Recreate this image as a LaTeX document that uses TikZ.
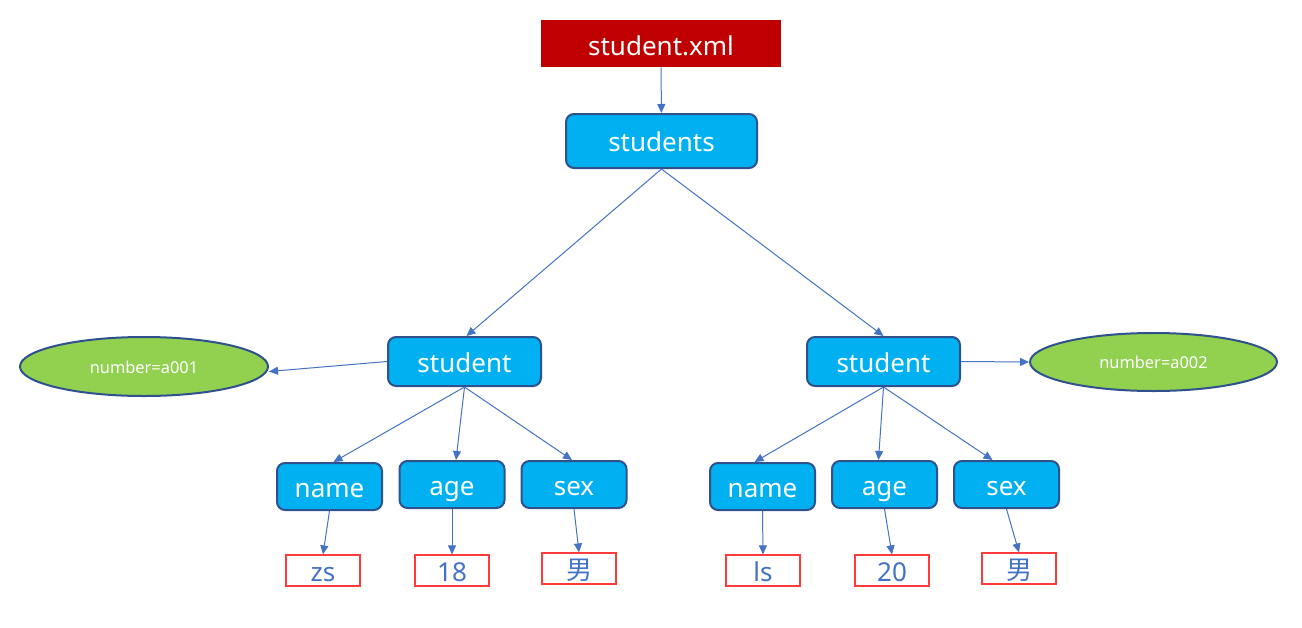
\documentclass[tikz,border=0pt]{standalone}
\usepackage{fontspec}
\setmainfont{Noto Sans}
\newfontfamily\cjk{Noto Sans CJK SC}
\usetikzlibrary{arrows.meta,shapes.geometric}
\definecolor{xmlred}{HTML}{C00000}
\definecolor{nodeblue}{HTML}{00B0F0}
\definecolor{edgeblue}{HTML}{2F528F}
\definecolor{arrowblue}{HTML}{4472C4}
\definecolor{attrgreen}{HTML}{92D050}
\definecolor{leafred}{HTML}{FF3B3B}
\tikzset{
  elem/.style={draw=edgeblue, line width=1pt, fill=nodeblue, rounded corners=4pt,
    text=white, font=\fontsize{13}{15}\selectfont, inner sep=0pt,
    text height=10.5pt, text depth=0pt},
  attr/.style={ellipse, draw=edgeblue, line width=1pt, fill=attrgreen, text=white,
    font=\fontsize{8.2}{9}\selectfont, inner sep=0pt, text height=6.5pt, text depth=0pt},
  leaf/.style={draw=leafred, line width=0.6pt, fill=white, text=arrowblue,
    font=\fontsize{13}{15}\selectfont, inner sep=0pt, minimum width=37pt, minimum height=15.5pt,
    text height=11pt, text depth=0pt},
  conn/.style={draw=arrowblue, line width=0.5pt, -{Triangle[length=4.5pt,width=4pt]}}
}
\begin{document}
\begin{tikzpicture}[x=0.5pt,y=-0.5pt]
\useasboundingbox (0,0) rectangle (1302,627);
\node[fill=xmlred, text=white, font=\fontsize{13}{15}\selectfont, minimum width=120pt, minimum height=23.5pt, inner sep=0pt, text height=11.5pt, text depth=0pt] (xml) at (661,43.5) {student.xml};
\node[elem, minimum width=95.5pt, minimum height=27pt] (students) at (661.5,141) {students};
\node[elem, minimum width=76.5pt, minimum height=24.5pt] (stuL) at (464.5,361.5) {student};
\node[elem, minimum width=76.5pt, minimum height=24.5pt] (stuR) at (883.5,361.5) {student};
\node[attr, minimum width=124pt, minimum height=29.5pt] (attrL) at (144,366.5) {number=a001};
\node[attr, minimum width=123.5pt, minimum height=29pt] (attrR) at (1153.5,362) {number=a002};
\foreach \n/\x/\y/\t in {nameL/329.5/486.5/name, ageL/452/484.5/age, sexL/574/484.5/sex,
    nameR/762.5/486.5/name, ageR/884.5/484.5/age, sexR/1006.5/484.5/sex}{
  \node[elem, minimum width=52.5pt, minimum height=23.5pt] (\n) at (\x,\y) {\t};
}
\node[leaf] (zs) at (323,570.5) {zs};
\node[leaf] (v18) at (452,570.5) {18};
\node[leaf] (mL) at (579,568.5) {\cjk 男};
\node[leaf] (ls) at (763,570.5) {ls};
\node[leaf] (v20) at (892,570.5) {20};
\node[leaf] (mR) at (1019,568.5) {\cjk 男};
\draw[conn] (xml) -- (students);
\draw[conn] (students.south) -- ([xshift=1pt]stuL.north);
\draw[conn] (students.south) -- (stuR.north);
\draw[conn] (stuL.west) -- ([yshift=-2.5pt]attrL.east);
\draw[conn] (stuR.east) -- (attrR.west);
\draw[conn] (stuL.south) -- ([xshift=2pt]nameL.north);
\draw[conn] (stuL.south) -- ([xshift=2pt]ageL.north);
\draw[conn] (stuL.south) -- ([xshift=-1pt]sexL.north);
\draw[conn] (stuR.south) -- ([xshift=-4pt]nameR.north);
\draw[conn] (stuR.south) -- ([xshift=-3pt]ageR.north);
\draw[conn] (stuR.south) -- ([xshift=-7pt]sexR.north);
\draw[conn] (nameL.south) -- (zs.north);
\draw[conn] (ageL.south) -- (v18.north);
\draw[conn] (sexL.south) -- (mL.north);
\draw[conn] (nameR.south) -- (ls.north);
\draw[conn] (ageR.south) -- (v20.north);
\draw[conn] (sexR.south) -- (mR.north);
\end{tikzpicture}
\end{document}
